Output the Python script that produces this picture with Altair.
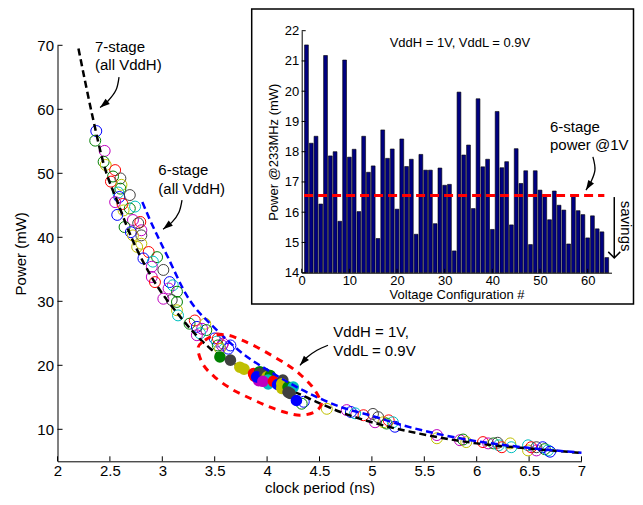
import altair as alt
import pandas as pd

# ---------------- main plot: hollow markers ----------------
hollow_x = [2.37, 2.36, 2.45, 2.44, 2.46, 2.55, 2.53, 2.51, 2.60, 2.61, 2.60, 2.58, 2.59, 2.69, 2.55, 2.62,
            2.69, 2.74, 2.63, 2.57, 2.72, 2.79, 2.64, 2.80, 2.70, 2.77, 2.72, 2.80, 2.80, 2.76, 2.87, 2.82,
            2.95, 2.91, 2.90, 3.01, 2.90, 2.93, 3.07, 3.10, 3.06, 3.14, 3.01, 3.09, 3.14, 3.14, 3.15, 3.31,
            3.26, 3.33, 3.41, 3.38, 3.42, 3.36, 3.33, 3.50, 3.52, 3.57, 3.65, 3.53, 3.58, 3.63, 3.53, 3.55,
            4.35, 4.33, 4.57, 4.76, 4.80, 4.84, 4.92, 5.01, 5.03, 5.06, 5.11, 5.16, 5.20, 5.22, 5.14, 5.62,
            5.62, 5.84, 5.87, 5.90, 6.06, 6.11, 6.16, 6.20, 6.21, 6.24, 6.32, 6.33, 6.49, 6.49, 6.52, 6.57,
            6.57, 6.63, 6.65, 6.68, 6.70]
hollow_y = [56.6, 55.1, 53.5, 51.8, 51.3, 50.5, 49.5, 48.7, 49.2, 48.2, 47.6, 47.0, 46.3, 46.6, 45.5, 45.2,
            44.5, 44.8, 44.2, 43.5, 42.7, 42.4, 41.6, 41.1, 40.8, 42.2, 40.3, 40.3, 39.0, 38.5, 37.7, 36.7,
            36.9, 36.2, 35.4, 34.9, 33.8, 33.0, 33.0, 32.5, 32.0, 31.5, 30.4, 30.2, 29.9, 28.6, 27.8, 27.0,
            26.5, 26.0, 26.5, 25.7, 25.5, 25.0, 24.7, 24.2, 23.7, 23.1, 23.1, 24.2, 23.4, 22.6, 23.1, 22.6,
            14.3, 14.0, 13.2, 13.0, 12.7, 12.5, 12.2, 12.4, 11.1, 11.9, 11.1, 11.4, 11.1, 10.4, 10.9, 9.1,
            8.6, 8.3, 8.4, 8.0, 8.0, 7.8, 7.8, 7.9, 7.5, 7.2, 7.8, 7.2, 7.5, 6.7, 7.2, 7.2,
            6.7, 7.2, 6.9, 6.7, 6.5]
hollow_c = ["b", "g", "m", "g", "y", "r", "g", "r", "k", "y", "g", "c", "b", "k", "m", "r",
            "g", "c", "y", "b", "m", "r", "g", "m", "b", "k", "y", "k", "y", "y", "r", "b",
            "g", "c", "m", "k", "m", "r", "b", "c", "m", "g", "m", "k", "g", "y", "c", "r",
            "g", "b", "y", "m", "g", "c", "m", "b", "c", "m", "b", "r", "m", "b", "g", "y",
            "b", "g", "y", "m", "b", "c", "r", "k", "m", "k", "y", "r", "c", "b", "g", "m",
            "y", "m", "g", "y", "r", "m", "g", "k", "c", "r", "y", "c", "c", "y", "r", "k",
            "m", "b", "g", "c", "b"]

# ---------------- main plot: filled markers (VddH=1V, VddL=0.9V) ----------------
filled_x = [3.55, 3.65, 3.74, 3.78, 3.87, 3.88, 3.93, 3.93, 3.92, 3.90, 3.98, 4.00, 4.03, 4.01, 4.01, 3.96,
            4.06, 4.10, 4.15, 4.14, 4.14, 4.20, 4.25, 4.20, 4.22, 4.28]
filled_y = [21.3, 20.8, 19.7, 19.4, 18.7, 18.3, 19.0, 18.7, 17.6, 18.2, 18.7, 18.2, 18.4, 17.7, 17.1, 17.5,
            17.5, 17.0, 17.7, 17.1, 16.4, 16.6, 16.6, 15.8, 15.6, 14.5]
filled_c = ["g", "k", "y", "y", "r", "r", "g", "k", "m", "b", "k", "y", "g", "c", "c", "m",
            "r", "b", "k", "y", "y", "g", "c", "k", "k", "b"]

# ---------------- curves ----------------
stage7_x = [2.20, 2.33, 2.44, 2.58, 2.71, 2.88, 3.17, 3.46, 3.68, 4.00, 4.31, 4.47, 4.70, 5.00, 5.62, 6.00, 6.50, 7.00]
stage7_y = [69.5, 59.2, 51.5, 45.2, 39.8, 34.3, 27.6, 22.6, 20.3, 17.6, 15.5, 14.3, 12.7, 11.1, 8.8, 7.8, 7.0, 6.3]
stage6_x = [2.81, 2.88, 2.96, 3.05, 3.23, 3.52, 3.74, 4.06, 4.44, 4.70, 4.98, 5.30, 5.94, 6.49, 7.00]
stage6_y = [45.5, 42.8, 40.0, 37.0, 31.0, 25.5, 22.2, 18.7, 15.3, 13.5, 12.2, 10.6, 8.3, 7.1, 6.35]
ellipse_x = [3.341, 3.407, 3.503, 3.627, 3.760, 3.904, 4.056, 4.199, 4.314, 4.428, 4.495, 4.514,
             4.448, 4.314, 4.171, 4.009, 3.837, 3.665, 3.503, 3.388]
ellipse_y = [22.67, 23.92, 24.70, 24.70, 23.92, 22.82, 21.42, 20.01, 18.60, 16.72, 15.00, 13.75,
             12.66, 12.19, 12.66, 13.60, 14.85, 16.25, 18.13, 20.16]

# ---------------- inset bars ----------------
config_no = list(range(1, 65))
power_233 = [21.53, 18.28, 18.51, 16.27, 21.18, 17.86, 18.00, 15.70, 21.03, 17.82, 18.08, 16.02, 18.51, 17.32,
             17.53, 15.13, 18.72, 17.78, 18.09, 16.10, 18.42, 17.51, 17.75, 15.27, 17.91, 17.39, 17.39, 15.62,
             17.46, 16.89, 16.92, 14.72, 19.97, 17.89, 18.22, 16.12, 19.75, 17.50, 17.75, 15.43, 19.33, 17.47,
             17.67, 15.58, 18.10, 16.95, 17.37, 14.93, 17.37, 16.73, 16.55, 15.75, 16.70, 16.23, 16.07, 14.95,
             16.55, 16.05, 15.92, 15.15, 15.88, 15.45, 15.35, 14.50]
ref_power = 16.55
ref_x = [0.5, 63.5]

# ---------------- annotations ----------------
main_text = ["7-stage", "(all VddH)", "6-stage", "(all VddH)", "VddH = 1V,", "VddL = 0.9V"]
main_text_x = [2.358, 2.358, 2.962, 2.962, 4.632, 4.632]
main_text_y = [69.73, 66.92, 50.5, 47.48, 25.22, 22.24]
arrow_id = [1, 1, 1, 1, 2, 2, 2, 2, 3, 3, 3, 3]
arrow_x = [2.587, 2.558, 2.482, 2.406, 3.188, 3.159, 3.093, 3.007, 4.581, 4.476, 4.381, 4.314]
arrow_y = [65.04, 63.0, 61.29, 60.27, 45.81, 43.93, 42.37, 41.27, 23.13, 22.35, 21.25, 20.0]
head_x = [2.406, 3.007, 4.314]
head_y = [60.27, 41.27, 20.0]
head_angle = [231, 232, 221]

inset_title = ["VddH = 1V, VddL = 0.9V"]
inset_title_x = [33.2]
inset_title_y = [21.6]
inset_note = ["6-stage", "power @1V"]
inset_note_x = [52.09, 52.09]
inset_note_y = [18.83, 18.22]
inset_arrow_x = [61.1, 61.53, 60.69, 59.64]
inset_arrow_y = [17.83, 17.40, 17.0, 16.73]
savings_x = [65.58, 65.58]
savings_y = [16.5, 14.49]
savings_text_x = [68.1]
savings_text_y = [15.54]

FONT = "Liberation Sans"
W, H = 524, 416
col_scale = alt.Scale(domain=["b", "g", "r", "c", "m", "y", "k"],
                      range=["#0000FF", "#008000", "#FF0000", "#00BFBF", "#BF00BF", "#BFBF00", "#404040"])

xs = alt.Scale(domain=[2, 7], nice=False, zero=False)
ys = alt.Scale(domain=[5, 70], nice=False, zero=False)

main_x_axis = alt.Axis(values=[2, 2.5, 3, 3.5, 4, 4.5, 5, 5.5, 6, 6.5, 7], format="~g", ticks=False, tickSize=0,
                       labelFontSize=15, labelPadding=2, title="clock period (ns)", titleFontSize=15,
                       titleBaseline="alphabetic", titleY=31, labelOverlap=False, labelFlush=False)
main_y_axis = alt.Axis(values=[10, 20, 30, 40, 50, 60, 70], ticks=False, tickSize=0, labelFontSize=15,
                       labelPadding=4, title="Power (mW)", titleFontSize=15, titlePadding=8,
                       labelOverlap=False, labelFlush=False)


def MX(f):
    return alt.X(f, type="quantitative", scale=xs, axis=main_x_axis)


def MY(f):
    return alt.Y(f, type="quantitative", scale=ys, axis=main_y_axis)


hollow = alt.Chart(pd.DataFrame({"x": hollow_x, "y": hollow_y, "c": hollow_c})).mark_point(
    shape="circle", filled=False, size=120, strokeWidth=1, opacity=1).encode(
    x=MX("x"), y=MY("y"), color=alt.Color("c:N", scale=col_scale, legend=None))

filled = alt.Chart(pd.DataFrame({"x": filled_x, "y": filled_y, "c": filled_c})).mark_point(
    shape="circle", filled=True, size=135, opacity=1).encode(
    x=MX("x"), y=MY("y"), color=alt.Color("c:N", scale=col_scale, legend=None))

c7 = alt.Chart(pd.DataFrame({"x": stage7_x, "y": stage7_y})).mark_line(
    color="black", strokeWidth=2.5, strokeDash=[7, 4], interpolate="monotone").encode(x=MX("x"), y=MY("y"))
c6 = alt.Chart(pd.DataFrame({"x": stage6_x, "y": stage6_y})).mark_line(
    color="#0000FF", strokeWidth=2.5, strokeDash=[7, 4], interpolate="monotone").encode(x=MX("x"), y=MY("y"))
ell = alt.Chart(pd.DataFrame({"x": ellipse_x, "y": ellipse_y, "i": list(range(len(ellipse_x)))})).mark_line(
    color="#FF0000", strokeWidth=3, strokeDash=[7, 6], interpolate="cardinal-closed").encode(
    x=MX("x"), y=MY("y"), order="i:Q")

arrows = alt.Chart(pd.DataFrame({"x": arrow_x, "y": arrow_y, "id": arrow_id,
                                 "i": list(range(len(arrow_x)))})).mark_line(
    color="black", strokeWidth=1.3, interpolate="cardinal").encode(
    x=MX("x"), y=MY("y"), detail="id:N", order="i:Q")
ARROW_PATH = "M0,0L0.55,1.6L-0.55,1.6Z"
heads = alt.Chart(pd.DataFrame({"x": head_x, "y": head_y, "a": head_angle})).mark_point(
    shape=ARROW_PATH, filled=True, color="black", size=150, opacity=1).encode(
    x=MX("x"), y=MY("y"), angle=alt.Angle("a:Q", scale=None))
texts = alt.Chart(pd.DataFrame({"x": main_text_x, "y": main_text_y, "t": main_text})).mark_text(
    align="left", baseline="middle", fontSize=15, font=FONT, color="black").encode(
    x=MX("x"), y=MY("y"), text="t:N")

xt = pd.DataFrame({"v": [2, 2.5, 3, 3.5, 4, 4.5, 5, 5.5, 6, 6.5, 7]})
xt["lo"] = 5.0
xt["hi"] = 5.78
xticks = alt.Chart(xt).mark_rule(color="black", strokeWidth=1).encode(x=MX("v"), y=MY("lo"), y2="hi:Q")
yt = pd.DataFrame({"v": [10, 20, 30, 40, 50, 60, 70]})
yt["lo"] = 2.0
yt["hi"] = 2.048
yticks = alt.Chart(yt).mark_rule(color="black", strokeWidth=1).encode(y=MY("v"), x=MX("lo"), x2="hi:Q")

main = alt.layer(hollow, c7, filled, c6, ell, arrows, heads, texts, xticks, yticks)

# ---------------- inset ----------------
ixs = alt.Scale(domain=[0, 65], range=[244.2, 554], nice=False, zero=False)
iys = alt.Scale(domain=[14, 22], range=[227.4, -14.6], nice=False, zero=False)
inset_x_axis = alt.Axis(orient="bottom", offset=227.4 - H, values=[0, 10, 20, 30, 40, 50, 60], ticks=False,
                        tickSize=0, labelFontSize=13, labelPadding=2, title="Voltage Configuration #",
                        titleFontSize=13, titlePadding=1, labelOverlap=False, labelFlush=False, zindex=2)
inset_y_axis = alt.Axis(orient="left", offset=-244.2, values=[14, 15, 16, 17, 18, 19, 20, 21, 22], ticks=False,
                        tickSize=0, labelFontSize=13, labelPadding=3, title="Power @233MHz (mW)",
                        titleFontSize=13, titlePadding=4, labelOverlap=False, labelFlush=False, zindex=2)


def IX(f):
    return alt.X(f, type="quantitative", scale=ixs, axis=inset_x_axis)


def IY(f):
    return alt.Y(f, type="quantitative", scale=iys, axis=inset_y_axis)


frame = alt.Chart(pd.DataFrame({"a": [0]})).mark_rect(fill="white", stroke="black", strokeWidth=1.5).encode(
    x=alt.value(194.2), x2=alt.value(576), y=alt.value(-36.3), y2=alt.value(258.7))

bars = alt.Chart(pd.DataFrame({"n": config_no, "p": power_233})).transform_calculate(
    lo="datum.n - 0.4", hi="datum.n + 0.4", base="14").mark_bar(
    fill="#000080", stroke="black", strokeWidth=0.6).encode(
    x=IX("lo"), x2="hi:Q", y=IY("p"), y2="base:Q")

refline = alt.Chart(pd.DataFrame({"x": ref_x, "y": [ref_power, ref_power]})).mark_line(
    color="#FF0000", strokeWidth=3, strokeDash=[9, 5]).encode(x=IX("x"), y=IY("y"))

ixt = pd.DataFrame({"v": [0, 10, 20, 30, 40, 50, 60]})
ixt["lo"] = 14.0
ixt["hi"] = 14.13
ixticks = alt.Chart(ixt).mark_rule(color="black", strokeWidth=1).encode(x=IX("v"), y=IY("lo"), y2="hi:Q")
iyt = pd.DataFrame({"v": [14, 15, 16, 17, 18, 19, 20, 21, 22]})
iyt["lo"] = 0.0
iyt["hi"] = 0.84
iyticks = alt.Chart(iyt).mark_rule(color="black", strokeWidth=1).encode(y=IY("v"), x=IX("lo"), x2="hi:Q")

ititle = alt.Chart(pd.DataFrame({"x": inset_title_x, "y": inset_title_y, "t": inset_title})).mark_text(
    align="center", baseline="middle", fontSize=13, font=FONT, color="black").encode(
    x=IX("x"), y=IY("y"), text="t:N")
inote = alt.Chart(pd.DataFrame({"x": inset_note_x, "y": inset_note_y, "t": inset_note})).mark_text(
    align="left", baseline="middle", fontSize=15, font=FONT, color="black").encode(
    x=IX("x"), y=IY("y"), text="t:N")

iarrow = alt.Chart(pd.DataFrame({"x": inset_arrow_x, "y": inset_arrow_y,
                                 "i": list(range(len(inset_arrow_x)))})).mark_line(
    color="black", strokeWidth=1.3, interpolate="cardinal").encode(x=IX("x"), y=IY("y"), order="i:Q")
ihead = alt.Chart(pd.DataFrame({"x": [inset_arrow_x[-1]], "y": [inset_arrow_y[-1]], "a": [212]})).mark_point(
    shape=ARROW_PATH, filled=True, color="black", size=150, opacity=1).encode(
    x=IX("x"), y=IY("y"), angle=alt.Angle("a:Q", scale=None))
sav_shaft = alt.Chart(pd.DataFrame({"x": savings_x, "y": savings_y})).mark_line(
    color="black", strokeWidth=1.5).encode(x=IX("x"), y=IY("y"))
sav_head = alt.Chart(pd.DataFrame({"x": [savings_x[-1]], "y": [savings_y[-1]]})).mark_point(
    shape="M-1,-1L0,0L1,-1", filled=False, color="black", strokeWidth=1.5, size=144, opacity=1).encode(
    x=IX("x"), y=IY("y"))
sav_text = alt.Chart(pd.DataFrame({"x": savings_text_x, "y": savings_text_y, "t": ["savings"]})).mark_text(
    angle=90, align="center", baseline="middle", fontSize=15, font=FONT, color="black").encode(
    x=IX("x"), y=IY("y"), text="t:N")

inset = alt.layer(frame, bars, refline, ixticks, iyticks, ititle, inote, iarrow, ihead,
                  sav_shaft, sav_head, sav_text)

chart = alt.layer(main, inset).resolve_scale(x="independent", y="independent").properties(
    width=W, height=H,
    autosize=alt.AutoSizeParams(type="none"),
    padding={"left": 49.5, "top": 37.3, "right": 53.5, "bottom": 34},
).configure_view(stroke=None).configure_axis(
    labelFont=FONT, titleFont=FONT, labelColor="black", titleColor="black", domainColor="black",
    domainWidth=1, titleFontWeight="normal", grid=False)

chart.save("out.html", embed_options={"renderer": "svg", "actions": False})
